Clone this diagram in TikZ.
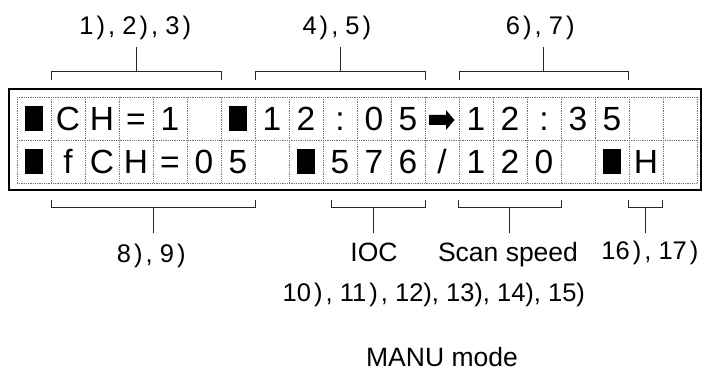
\documentclass[tikz,border=0pt]{standalone}
\usepackage{fontspec}
\setmainfont{Liberation Sans}
\newcommand\fp{\kern0.12em)\kern0.12em\relax}
\begin{document}
\begin{tikzpicture}[x=1pt,y=-1pt,
  cell/.style={inner sep=0pt,anchor=base,font=\fontsize{33.5}{34}\selectfont},
  blk/.style={fill=black,draw=none,inner sep=0pt,minimum width=18pt,minimum height=25pt},
  brk/.style={draw=black!85,line width=1pt},
  lab/.style={inner sep=0pt,anchor=base west,font=\fontsize{25.5}{26}\selectfont},
  big/.style={inner sep=0pt,anchor=base,font=\fontsize{26.5}{27}\selectfont},
  lcdgrid/.style={draw=black!55,densely dotted,line width=0.8pt}]
\useasboundingbox (0,0) rectangle (704,371);
% frame
\draw[line width=2.2pt] (9,89.3) rectangle (701,189.8);
% dotted grid
\foreach \i in {0,...,20} \draw[lcdgrid] ({17+34*\i},97) -- ({17+34*\i},183);
\foreach \y in {97,140,183} \draw[lcdgrid] (17,\y) -- (697,\y);
% row 1
\node[blk] (r1c0) at (34,118.5) {};
\node[cell] (r1c1) at (68,131) {C};
\node[cell] (r1c2) at (102,131) {H};
\node[cell] (r1c3) at (136,131) {=};
\node[cell] (r1c4) at (170,131) {1};
\node[blk] (r1c6) at (238,118.5) {};
\node[cell] (r1c7) at (272,131) {1};
\node[cell] (r1c8) at (306,131) {2};
\node[cell] (r1c9) at (340,131) {:};
\node[cell] (r1c10) at (374,131) {0};
\node[cell] (r1c11) at (408,131) {5};
\fill (429,115) -- (446,115) -- (446,110) -- (454.5,120) -- (446,130) -- (446,125) -- (429,125) -- cycle;
\node[cell] (r1c13) at (476,131) {1};
\node[cell] (r1c14) at (510,131) {2};
\node[cell] (r1c15) at (544,131) {:};
\node[cell] (r1c16) at (578,131) {3};
\node[cell] (r1c17) at (612,131) {5};
% row 2
\node[blk] (r2c0) at (34,161.5) {};
\node[cell] (r2c1) at (68,174) {f};
\node[cell] (r2c2) at (102,174) {C};
\node[cell] (r2c3) at (136,174) {H};
\node[cell] (r2c4) at (170,174) {=};
\node[cell] (r2c5) at (204,174) {0};
\node[cell] (r2c6) at (238,174) {5};
\node[blk] (r2c8) at (306,161.5) {};
\node[cell] (r2c9) at (340,174) {5};
\node[cell] (r2c10) at (374,174) {7};
\node[cell] (r2c11) at (408,174) {6};
\node[cell] (r2c12) at (442,174) {/};
\node[cell] (r2c13) at (476,174) {1};
\node[cell] (r2c14) at (510,174) {2};
\node[cell] (r2c15) at (544,174) {0};
\node[blk] (r2c17) at (612,161.5) {};
\node[cell] (r2c18) at (646,174) {H};
% top brackets
\draw[brk] (51.7,80.5) -- (51.7,72) -- (221.3,72) -- (221.3,80.5);
\draw[brk] (255.3,80.5) -- (255.3,72) -- (425.3,72) -- (425.3,80.5);
\draw[brk] (459,80.5) -- (459,72) -- (628.5,72) -- (628.5,80.5);
\coordinate (t1) at (136.7,72); \coordinate (t1e) at (136.7,46.7);
\coordinate (t2) at (340,72);   \coordinate (t2e) at (340,46.7);
\coordinate (t3) at (543.3,72); \coordinate (t3e) at (543.3,46.7);
\draw[brk] (t1) -- (t1e);
\draw[brk] (t2) -- (t2e);
\draw[brk] (t3) -- (t3e);
\node[lab] (l1) at (79.2,35) {1\fp, 2\fp, 3\fp};
\node[lab] (l2) at (302.3,35) {4\fp, 5\fp};
\node[lab] (l3) at (505.7,35) {6\fp, 7\fp};
% bottom brackets
\draw[brk] (51.7,200) -- (51.7,207.7) -- (255.7,207.7) -- (255.7,200);
\draw[brk] (331.7,200) -- (331.7,207.7) -- (425.3,207.7) -- (425.3,200);
\draw[brk] (458.7,200) -- (458.7,207.7) -- (561,207.7) -- (561,200);
\draw[brk] (628.7,200) -- (628.7,207.7) -- (662.7,207.7) -- (662.7,200);
\coordinate (b1) at (153.7,207.7); \coordinate (b1e) at (153.7,233);
\coordinate (b2) at (373.7,207.7); \coordinate (b2e) at (373.7,233);
\coordinate (b3) at (509.7,207.7); \coordinate (b3e) at (509.7,233);
\coordinate (b4) at (645.3,207.7); \coordinate (b4e) at (645.3,233);
\draw[brk] (b1) -- (b1e);
\draw[brk] (b2) -- (b2e);
\draw[brk] (b3) -- (b3e);
\draw[brk] (b4) -- (b4e);
\node[lab] (l4) at (116.7,263) {8\fp, 9\fp};
\node[big] (ioc) at (374,262) {IOC};
\node[big] (scan) at (508,262) {Scan speed};
\node[lab] (l5) at (601.2,260) {16\fp, 17\fp};
\node[lab] (l6) at (282.5,301.5) {10\fp, 11\fp, 12), 13), 14), 15)};
\node[big] (mode) at (442,366.5) {MANU mode};
\end{tikzpicture}
\end{document}
